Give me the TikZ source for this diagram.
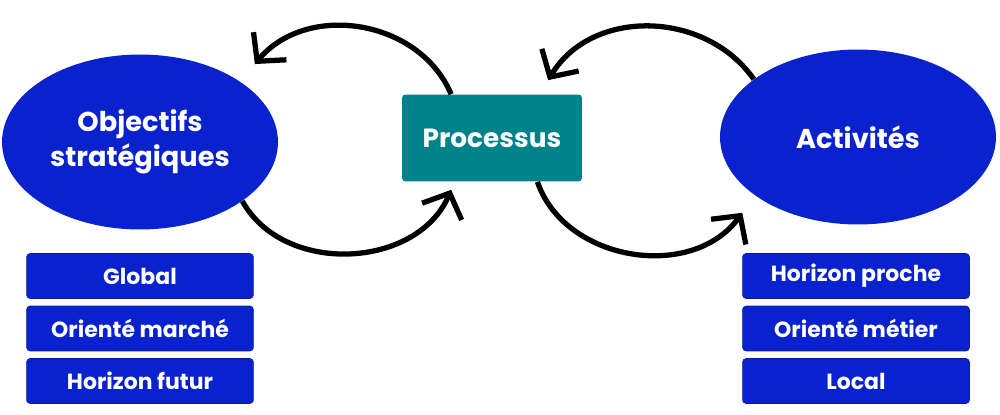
\documentclass[tikz,border=0pt]{standalone}
\usepackage{fontspec}
\setmainfont{Poppins}
\usetikzlibrary{shapes.geometric,arrows.meta}

\definecolor{bleu}{RGB}{10,34,205}
\definecolor{sarcelle}{RGB}{0,130,138}

\tikzset{
	goal/.style={ellipse,fill=bleu,text=white,inner sep=0pt,minimum width=5.52cm,minimum height=3.5cm,align=center,font=\fontsize{15.5}{20}\selectfont\bfseries},
	proc/.style={rectangle,rounded corners=2pt,fill=sarcelle,text=white,minimum width=3.6cm,minimum height=1.74cm,font=\fontsize{15}{20}\selectfont\bfseries},
	tag/.style={rectangle,rounded corners=2pt,fill=bleu,draw=bleu!80!black,line width=0.3pt,text=white,minimum width=4.54cm,minimum height=0.9cm,font=\fontsize{12.5}{16}\selectfont\bfseries},
	loop/.style={line width=3pt,-{Straight Barb[length=0.4cm,width=0.86cm]}}
}

\begin{document}
\begin{tikzpicture}[x=0.02cm,y=-0.02cm]
	\useasboundingbox (0,0) rectangle (1000,415);

	\node[goal] (obj) at (140,142) {Objectifs\\strat\'egiques};
	\node[proc] (proc) at (492,138) {Processus};
	\node[goal] (act) at (858,137) {Activit\'es};

	\node[tag] (global) at (140,276) {Global};
	\node[tag] (marche) at (140,328.5) {Orient\'e march\'e};
	\node[tag] (futur) at (140,381) {Horizon futur};

	\node[tag] (proche) at (856,276) {Horizon proche};
	\node[tag] (metier) at (856,328.5) {Orient\'e m\'etier};
	\node[tag] (local) at (856,381) {Local};

	\draw[loop] (proc.133) to[out=113,in=50,looseness=1.05] ([shift={(20,-14)}]obj.34);
	\draw[loop] (obj.-30) to[out=-61,in=-113,looseness=1.05] ([yshift=-0.16cm]proc.227);
	\draw[loop] (act.151) to[out=125,in=59,looseness=1.05] ([yshift=0.28cm]proc.38);
	\draw[loop] (proc.-44) to[out=-71,in=-126,looseness=1.05] ([shift={(-19,13)}]act.213);
\end{tikzpicture}
\end{document}
